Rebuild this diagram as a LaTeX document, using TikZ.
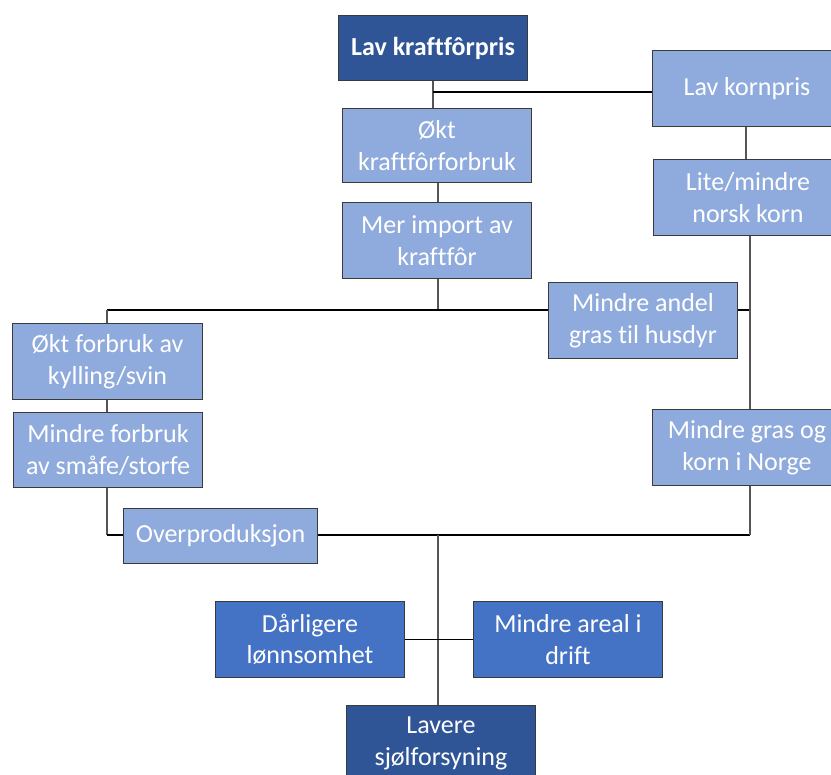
\documentclass[tikz,border=0pt]{standalone}
\usepackage{fontspec}
\setmainfont{Carlito}[RawFeature=-liga]
\usetikzlibrary{backgrounds}
\definecolor{lightb}{HTML}{8FAADC}
\definecolor{midb}{HTML}{4472C4}
\definecolor{darkb}{HTML}{2F5597}
\definecolor{edge}{HTML}{3A3A3A}
\definecolor{vgrey}{HTML}{555555}
\begin{document}
\begin{tikzpicture}[x=1pt,y=-1pt,
  box/.style={draw=edge,line width=1pt,anchor=north west,text=white,align=center,
    inner sep=0pt,minimum width=189pt,minimum height=76pt,
    font=\fontsize{26}{31.5}\selectfont},
  lbox/.style={box,fill=lightb},
  mbox/.style={box,fill=midb},
  dbox/.style={box,fill=darkb},
  vline/.style={draw=vgrey,line width=1.3pt},
  hthin/.style={draw=black,line width=1.2pt},
  hthick/.style={draw=black,line width=2pt}]
\useasboundingbox (0,0) rectangle (831,775);
\clip (0,0) rectangle (831,775);
% nodes
\node[dbox,minimum height=65pt,font=\fontsize{26}{31.5}\selectfont\bfseries] (kraft) at (338,15) {Lav kraftfôrpris};
\node[lbox] (korn) at (652,50) {Lav kornpris};
\node[lbox,minimum height=74pt] (okt) at (342,108) {Økt\\kraftfôrforbruk};
\node[lbox] (import) at (342,202) {Mer import av\\kraftfôr};
\node[lbox] (lite) at (653,159) {Lite/mindre\\norsk korn};
\node[lbox] (andel) at (548,282) {Mindre andel\\gras til husdyr};
\node[lbox,minimum width=190pt] (kyll) at (12,323) {Økt forbruk av\\kylling/svin};
\node[lbox,minimum height=75pt] (smafe) at (13,412) {Mindre forbruk\\av småfe/storfe};
\node[lbox] (mgras) at (652,409) {Mindre gras og\\korn i Norge};
\node[lbox,minimum width=194pt,minimum height=55pt] (over) at (123,508) {Overproduksjon};
\node[mbox] (darl) at (215,601) {Dårligere\\lønnsomhet};
\node[mbox] (areal) at (473,601) {Mindre areal i\\drift};
\node[dbox] (lavere) at (346,705) {Lavere\\sjølforsyning};
% junction coordinates
\coordinate (j1) at (433,92);
\coordinate (L1) at (107,310);
\coordinate (R1) at (750,310);
\coordinate (L2) at (107,535);
\coordinate (R2) at (750,535);
\coordinate (C2) at (438,535);
\begin{pgfonlayer}{background}
\fill[white] (0,0) rectangle (831,775);
\draw[vline] (kraft.south) -- (kraft.south |- okt.north);
\draw[hthin] (j1) -- (j1 -| korn.west);
\draw[vline] (korn.south -| 746,0) -- (lite.north -| 746,0);
\draw[vline] (okt.south -| 438,0) -- (import.north -| 438,0);
\draw[vline] (import.south -| 438,0) -- (L1 -| 438,0);
\draw[hthick] (L1) -- (R1);
\draw[vline] (L1) -- (L1 |- kyll.north);
\draw[vline] (kyll.south -| L1) -- (smafe.north -| L1);
\draw[vline] (R1 |- lite.south) -- (R1 |- mgras.north);
\draw[vline] (smafe.south -| L2) -- (L2);
\draw[hthick] (L2) -- (R2);
\draw[vline] (R2) -- (R2 |- mgras.south);
\draw[vline] (C2) -- (C2 |- lavere.north);
\draw[hthin] (darl.east) -- (areal.west);
\end{pgfonlayer}
\end{tikzpicture}
\end{document}
